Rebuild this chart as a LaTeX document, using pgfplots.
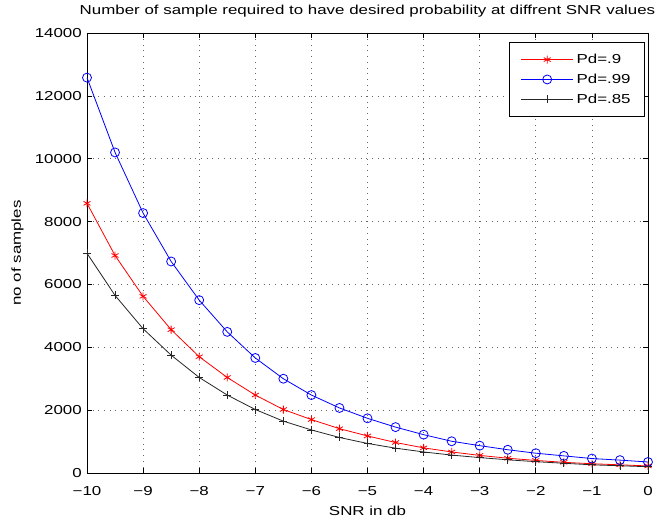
\documentclass[border=0pt]{standalone}
\usepackage{fontspec}
\setmainfont{Liberation Sans}[FakeStretch=1.3]
\usepackage{pgfplots}
\pgfplotsset{compat=1.18}

% samples needed vs SNR (dB)
\pgfplotstableread{
snr   pd9   pd99   pd85
-10   8580  12580  6990
-9.5  6920  10200  5650
-9    5620  8270   4590
-8.5  4560  6730   3750
-8    3700  5500   3040
-7.5  3040  4490   2480
-7    2480  3660   2020
-6.5  2020  3000   1650
-6    1700  2480   1370
-5.5  1410  2070   1130
-5    1180  1740   940
-4.5  970   1460   790
-4    800   1220   670
-3.5  670   1010   570
-3    560   870    490
-2.5  470   740    420
-2    400   630    360
-1.5  340   545    310
-1    295   460    260
-0.5  260   410    230
0     225   350    200
}\samples

\begin{document}
\fontsize{13bp}{15.6bp}\selectfont
\begin{tikzpicture}
\begin{axis}[
  scale only axis,
  width=561bp, height=440bp,
  xmin=-10, xmax=0, ymin=0, ymax=14000,
  xtick={-10,-9,...,0},
  xticklabels={−10,−9,−8,−7,−6,−5,−4,−3,−2,−1,0},
  ytick={0,2000,...,14000},
  yticklabels={0,2000,4000,6000,8000,10000,12000,14000},
  scaled y ticks=false,
  tick pos=both, tick align=inside,
  major tick length=5bp,
  axis line style={black, line width=0.9bp},
  tick style={black, line width=0.7bp},
  grid=major,
  major grid style={black!60, line width=0.7bp, dash pattern=on 0.7bp off 5bp},
  xticklabel style={anchor=base, inner sep=0pt, yshift=-22bp},
  yticklabel style={anchor=east, inner sep=0pt, xshift=-5bp},
  title={Number of sample required to have desired probability at diffrent SNR values},
  title style={at={(axis description cs:0.5,1)}, anchor=base, yshift=12.5bp, inner sep=0pt},
  xlabel={SNR in db},
  xlabel style={at={(axis description cs:0.5,0)}, anchor=base, yshift=-42bp, inner sep=0pt},
  ylabel={no of samples},
  ylabel style={at={(axis description cs:-0.124,0.5)}, anchor=center, inner sep=0pt},
  legend cell align=left,
  legend style={at={(rel axis cs:0.9947,0.9795)}, anchor=north east,
    draw=black, line width=0.8bp, row sep=2.5bp,
    inner xsep=11bp, inner ysep=8.5bp,
    nodes={inner sep=3bp}},
  legend image code/.code={
    \draw[mark repeat=2, mark phase=2] plot coordinates {(0bp,0bp) (26bp,0bp) (52bp,0bp)};
  },
]
\addplot[red, line width=0.8bp, mark=asterisk, mark size=4bp,
  mark options={line width=0.8bp}] table[x=snr, y=pd9] {\samples};
\addlegendentry{Pd=.9}
\addplot[blue, line width=0.8bp, mark=o, mark size=4.5bp,
  mark options={line width=0.8bp}] table[x=snr, y=pd99] {\samples};
\addlegendentry{Pd=.99}
\addplot[black!85, line width=0.8bp, mark=+, mark size=4bp,
  mark options={line width=0.8bp}] table[x=snr, y=pd85] {\samples};
\addlegendentry{Pd=.85}
\end{axis}
\pgfresetboundingbox
\path ([xshift=-87bp, yshift=-47bp]current axis.south west)
  rectangle ([xshift=10bp, yshift=33bp]current axis.north east);
\end{tikzpicture}
\end{document}
